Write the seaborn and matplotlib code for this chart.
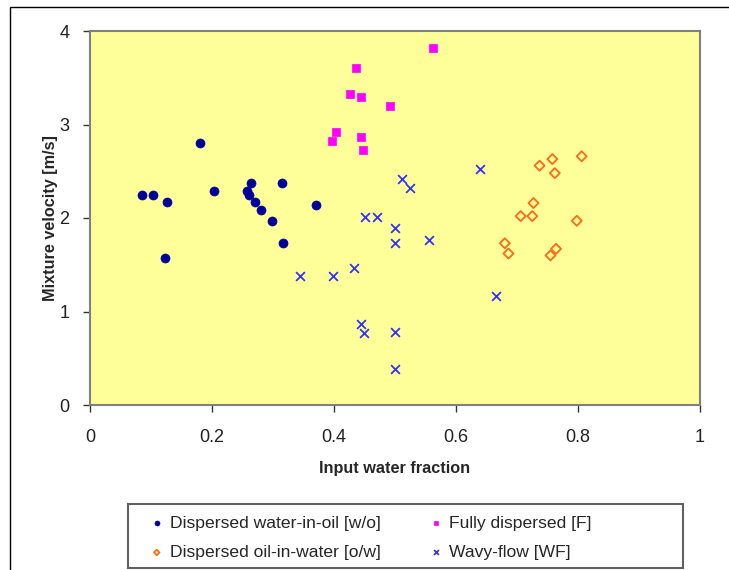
import numpy as np
import seaborn as sns
import matplotlib.pyplot as plt
from matplotlib.patches import Rectangle

# Dispersed water-in-oil [w/o]
wo_x = [0.085, 0.103, 0.126, 0.123, 0.180, 0.204, 0.257, 0.264, 0.261, 0.270,
        0.281, 0.298, 0.315, 0.316, 0.370]
wo_y = [2.25, 2.25, 2.17, 1.57, 2.80, 2.29, 2.29, 2.37, 2.25, 2.17,
        2.09, 1.97, 2.37, 1.73, 2.14]

# Fully dispersed [F]
f_x = [0.562, 0.436, 0.427, 0.445, 0.491, 0.403, 0.396, 0.445, 0.447]
f_y = [3.82, 3.60, 3.33, 3.29, 3.20, 2.92, 2.82, 2.87, 2.73]

# Dispersed oil-in-water [o/w]
ow_x = [0.806, 0.758, 0.737, 0.762, 0.727, 0.706, 0.725, 0.798, 0.680, 0.686,
        0.764, 0.755]
ow_y = [2.66, 2.63, 2.56, 2.48, 2.16, 2.02, 2.02, 1.97, 1.73, 1.62,
        1.67, 1.60]

# Wavy-flow [WF]
wf_x = [0.640, 0.511, 0.525, 0.450, 0.470, 0.500, 0.500, 0.555, 0.432, 0.399,
        0.344, 0.665, 0.444, 0.449, 0.500, 0.500]
wf_y = [2.52, 2.42, 2.32, 2.01, 2.01, 1.89, 1.73, 1.77, 1.47, 1.38,
        1.38, 1.17, 0.87, 0.77, 0.78, 0.38]

x_ticks = [0, 0.2, 0.4, 0.6, 0.8, 1]
x_tick_labels = ['0', '0.2', '0.4', '0.6', '0.8', '1']
y_ticks = [0, 1, 2, 3, 4]

sns.set_theme(style='ticks')
plt.rcParams['font.family'] = ['Liberation Sans', 'DejaVu Sans']

W, H = 729, 570
fig = plt.figure(figsize=(W / 100, H / 100), dpi=100)
fig.patch.set_facecolor('white')
ax = fig.add_axes([90 / W, 1 - 405 / H, 610 / W, 374 / H])
ax.set_facecolor('#FFFF99')

sns.scatterplot(x=wo_x, y=wo_y, ax=ax, marker='o', s=42, color='#000099',
                edgecolor='#000099', linewidth=0.5, label='Dispersed water-in-oil [w/o]')
sns.scatterplot(x=ow_x, y=ow_y, ax=ax, marker='D', s=26, facecolor='none',
                edgecolor='#FF6A13', linewidth=1.3, label='Dispersed oil-in-water [o/w]')
sns.scatterplot(x=f_x, y=f_y, ax=ax, marker='s', s=30, color='#FF00FF',
                edgecolor='#FF00FF', linewidth=0.5, label='Fully dispersed [F]')
sns.scatterplot(x=wf_x, y=wf_y, ax=ax, marker='x', s=40, color='#3333FF',
                linewidth=1.3, label='Wavy-flow [WF]')

ax.set_xlim(0, 1)
ax.set_ylim(0, 4)
ax.set_xticks(x_ticks)
ax.set_xticklabels(x_tick_labels)
ax.set_yticks(y_ticks)
ax.tick_params(axis='both', direction='out', length=5, width=1, color='#333333',
               labelsize=13, labelcolor='#222222')
ax.tick_params(axis='x', pad=12)
ax.tick_params(axis='y', pad=10)
for sp in ax.spines.values():
    sp.set_color('#808080')
    sp.set_linewidth(1.5)
    sp.set_visible(True)

ax.set_xlabel('Input water fraction', fontsize=11.7, fontweight='bold', labelpad=11)
ax.set_ylabel('Mixture velocity [m/s]', fontsize=11.7, fontweight='bold', labelpad=1)

handles, labels = ax.get_legend_handles_labels()
ax.legend_.remove()
leg = fig.legend(handles, labels, ncol=2, loc='upper left',
                 bbox_to_anchor=(130.5 / W, 1 - 500 / H),
                 frameon=False, fontsize=12.6, markerscale=0.55,
                 handlelength=1.2, handletextpad=0.14, columnspacing=2.57,
                 borderpad=0.4, labelspacing=0.79)

# legend box
fig.patches.append(Rectangle((128 / W, 1 - 568 / H), 555 / W, 64 / H,
                             transform=fig.transFigure, fill=False,
                             edgecolor='#606060', linewidth=1.5))
# outer chart frame
fig.patches.append(Rectangle((10 / W, -0.1), 1.2, 1 - 7 / H + 0.1,
                             transform=fig.transFigure, fill=False,
                             edgecolor='black', linewidth=1, zorder=-1))

fig.savefig('out.png', dpi=100)
